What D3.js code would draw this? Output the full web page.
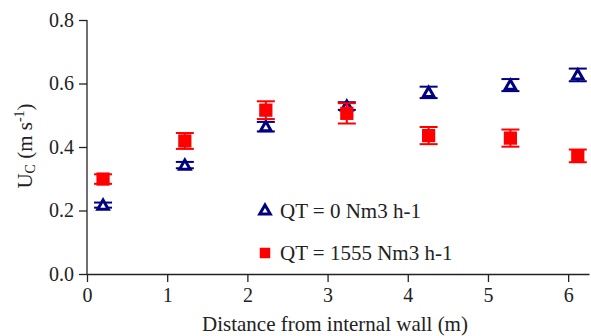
<!DOCTYPE html>
<html>
<head>
<meta charset="utf-8">
<script src="https://cdn.jsdelivr.net/npm/d3@7"></script>
<style>
  body { margin: 0; background: #fff; }
  svg text { font-family: "Liberation Serif", "Times New Roman", serif; fill: #222; }
  .axis path, .axis line { stroke: #222; stroke-width: 1.3; }
</style>
</head>
<body>
<div id="chart"></div>
<script>
// data
var distance = [0.2, 1.22, 2.23, 3.24, 4.26, 5.28, 6.12];
var ucNoGas = [0.217, 0.343, 0.464, 0.529, 0.572, 0.595, 0.627];
var errNoGas = [0.008, 0.010, 0.015, 0.012, 0.018, 0.019, 0.020];
var ucGas = [0.299, 0.419, 0.516, 0.506, 0.436, 0.428, 0.372];
var errGas = [0.015, 0.025, 0.028, 0.032, 0.027, 0.027, 0.020];
var xTicks = [0, 1, 2, 3, 4, 5, 6];
var yTicks = [0.0, 0.2, 0.4, 0.6, 0.8];
var legendLabels = ["QT = 0 Nm3 h-1", "QT = 1555 Nm3 h-1"];

var width = 591, height = 336;
var margins = {top: 20, right: 2, bottom: 62, left: 87};

var svg = d3.select("#chart").append("svg")
    .attr("width", width)
    .attr("height", height);

// scales
var xScale = d3.scaleLinear().domain([0, 6.26]).range([margins.left, width - margins.right]);
var yScale = d3.scaleLinear().domain([0, 0.8]).range([height - margins.bottom, margins.top]);

// axes
var xAxis = d3.axisBottom(xScale).tickValues(xTicks).tickSize(8).tickSizeOuter(0).tickFormat(d3.format("d"));
var yAxis = d3.axisLeft(yScale).tickValues(yTicks).tickSize(8).tickSizeOuter(0).tickFormat(d3.format(".1f"));

var gx = svg.append("g")
    .attr("class", "axis")
    .attr("transform", "translate(0," + yScale(0) + ")")
    .call(xAxis);
gx.selectAll("text").style("font-size", "20px").attr("y", 12).attr("dy", "0.8em");

var gy = svg.append("g")
    .attr("class", "axis")
    .attr("transform", "translate(" + xScale(0) + ",0)")
    .call(yAxis);
gy.selectAll("text").style("font-size", "20px").attr("x", -13);
gy.selectAll(".domain").attr("d", "M0," + yScale(0) + "V" + yScale(0.8));

// axis titles
svg.append("text")
    .attr("x", 335)
    .attr("y", 331)
    .attr("text-anchor", "middle")
    .style("font-size", "21px")
    .text("Distance from internal wall (m)");

var yt = svg.append("text")
    .attr("transform", "translate(32,146) rotate(-90)")
    .attr("text-anchor", "middle")
    .style("font-size", "21px");
yt.append("tspan").text("U");
yt.append("tspan").attr("dy", 3).style("font-size", "14px").text("C");
yt.append("tspan").attr("dy", -3).text(" (m s");
yt.append("tspan").attr("dy", -8).style("font-size", "14px").text("-1");
yt.append("tspan").attr("dy", 8).text(")");

var blue = "#000080", red = "#ff0000";
var capW = 9;

function drawSeries(values, errors, color, cls) {
    var g = svg.append("g").attr("class", cls);
    var pts = values.map(function(v, i) { return {x: distance[i], y: v, e: errors[i]}; });
    var bars = g.selectAll(".err").data(pts).enter().append("g").attr("class", "err")
        .attr("stroke", color).attr("stroke-width", 2);
    bars.append("line")
        .attr("x1", function(d) { return xScale(d.x); })
        .attr("x2", function(d) { return xScale(d.x); })
        .attr("y1", function(d) { return yScale(d.y + d.e); })
        .attr("y2", function(d) { return yScale(d.y - d.e); });
    bars.append("line")
        .attr("x1", function(d) { return xScale(d.x) - capW; })
        .attr("x2", function(d) { return xScale(d.x) + capW; })
        .attr("y1", function(d) { return yScale(d.y + d.e); })
        .attr("y2", function(d) { return yScale(d.y + d.e); });
    bars.append("line")
        .attr("x1", function(d) { return xScale(d.x) - capW; })
        .attr("x2", function(d) { return xScale(d.x) + capW; })
        .attr("y1", function(d) { return yScale(d.y - d.e); })
        .attr("y2", function(d) { return yScale(d.y - d.e); });
    return {g: g, pts: pts};
}

var tri = d3.symbol().type(d3.symbolTriangle).size(48);
var sq = d3.symbol().type(d3.symbolSquare).size(175);

var s1 = drawSeries(ucNoGas, errNoGas, blue, "nogas");
s1.g.selectAll(".mk").data(s1.pts).enter().append("path")
    .attr("class", "mk")
    .attr("d", tri)
    .attr("transform", function(d) { return "translate(" + xScale(d.x) + "," + (yScale(d.y) + 1) + ")"; })
    .attr("fill", "#fff")
    .attr("stroke", blue)
    .attr("stroke-width", 3);

var s2 = drawSeries(ucGas, errGas, red, "gas");
s2.g.selectAll(".mk").data(s2.pts).enter().append("path")
    .attr("class", "mk")
    .attr("d", sq)
    .attr("transform", function(d) { return "translate(" + xScale(d.x) + "," + yScale(d.y) + ")"; })
    .attr("fill", red);

// legend
var leg = svg.append("g").attr("transform", "translate(265,0)");
leg.append("path").attr("d", tri).attr("transform", "translate(0,211)")
    .attr("fill", "#fff").attr("stroke", blue).attr("stroke-width", 3);
leg.append("path").attr("d", d3.symbol().type(d3.symbolSquare).size(110)).attr("transform", "translate(0,253)")
    .attr("fill", red);
leg.selectAll(".lt").data(legendLabels).enter().append("text")
    .attr("class", "lt")
    .attr("x", 15)
    .attr("y", function(d, i) { return 218 + i * 42; })
    .style("font-size", "21px")
    .text(function(d) { return d; });
</script>
</body>
</html>
